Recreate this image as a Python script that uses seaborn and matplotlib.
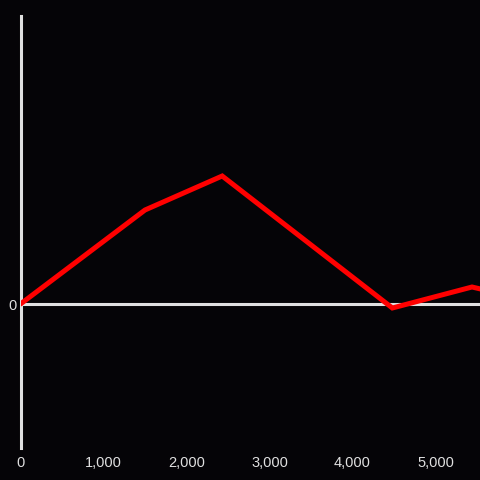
import pandas as pd
import seaborn as sns
from matplotlib import pyplot as plt

# values
x_vals = [0, 1500, 2430, 4480, 5440, 5800]
y_vals = [0, 940, 1280, -40, 170, 100]
x_ticks = [0, 1000, 2000, 3000, 4000, 5000]
x_tick_labels = ["0", "1,000", "2,000", "3,000", "4,000", "5,000"]

bg = "#050407"
axis_col = "#e0e0e0"

sns.set_style("dark", {"axes.facecolor": bg, "figure.facecolor": bg})
plt.rcParams["font.family"] = ["Liberation Sans", "DejaVu Sans"]

df = pd.DataFrame({"x": x_vals, "y": y_vals})

fig = plt.figure(figsize=(4.8, 4.8), dpi=100)
ax = fig.add_axes([20.5 / 480, 32 / 480, 459.5 / 480, 432 / 480])

sns.lineplot(data=df, x="x", y="y", ax=ax, color="#ff0000", linewidth=3.6,
             solid_joinstyle="miter", zorder=3)
ax.axhline(0, color=axis_col, linewidth=2.2, zorder=2)

ax.set_xlim(0, 5536)
ax.set_ylim(-1440, 2880)
ax.set_xticks(x_ticks)
ax.set_xticklabels(x_tick_labels)
ax.set_yticks([0])
ax.set_yticklabels(["0"])
ax.tick_params(axis="both", length=0, colors=axis_col, labelsize=10.5)
ax.tick_params(axis="x", pad=6)
ax.tick_params(axis="y", pad=3)
ax.set_xlabel("")
ax.set_ylabel("")
ax.grid(False)

for side in ["top", "right", "bottom"]:
    ax.spines[side].set_visible(False)
ax.spines["left"].set_color(axis_col)
ax.spines["left"].set_linewidth(2.2)

fig.savefig("out.png", facecolor=bg)
